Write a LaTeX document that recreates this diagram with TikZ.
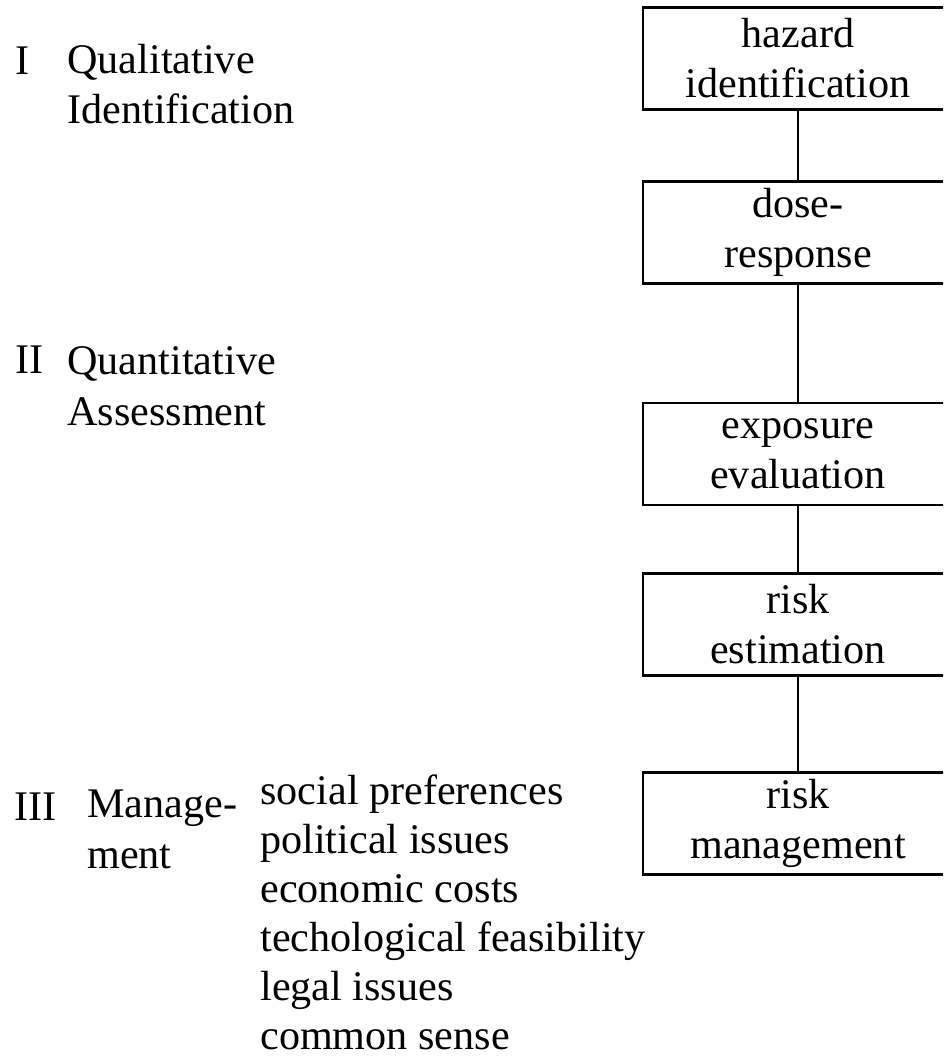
\documentclass[tikz,border=0pt]{standalone}
\usepackage{fontspec}
\setmainfont{Liberation Serif}
\tikzset{stage/.style={shape=rectangle, draw, line width=1.3pt, minimum width=6.2cm,
  minimum height=2.04cm, inner sep=0, align=center, font=\fontsize{24}{28.5}\selectfont},
  txt/.style={anchor=base west, inner sep=0, align=left, font=\fontsize{24}{28.5}\selectfont}}

\begin{document}
\begin{tikzpicture}[x=0.02cm, y=-0.02cm]
    \clip (0,0) rectangle (943,1057);
    \foreach \ypos/\stext [count=\i] in {58.5/{hazard\\identification},
        232.5/{dose-\\response}, 454/{exposure\\evaluation},
        624.5/{risk\\estimation}, 823.5/{risk\\management}}
        \node [stage] at (798,\ypos) (box-\i) {\stext};
    \foreach \i [evaluate={\j=int(\i+1);}] in {1,...,4}
        \draw [line width=1.3pt] (box-\i) -- (box-\j);
    % phases on the left (base = last line)
    \node [txt] at (15,75) (num-1) {I};
    \node [txt] at (67,124) (phase-1) {Qualitative\\Identification};
    \node [txt] at (15,373) (num-2) {II};
    \node [txt] at (67,425) (phase-2) {Quantitative\\Assessment};
    \node [txt] at (14,820) (num-3) {III};
    \node [txt] at (87,868) (phase-3) {Manage-\\ment};
    \foreach \ftext [count=\i] in {social preferences, political issues,
        economic costs, techological feasibility, legal issues, common sense}
        \node [txt] at (260,{804+49*(\i-1)}) (factor-\i) {\ftext};
\end{tikzpicture}
\end{document}
